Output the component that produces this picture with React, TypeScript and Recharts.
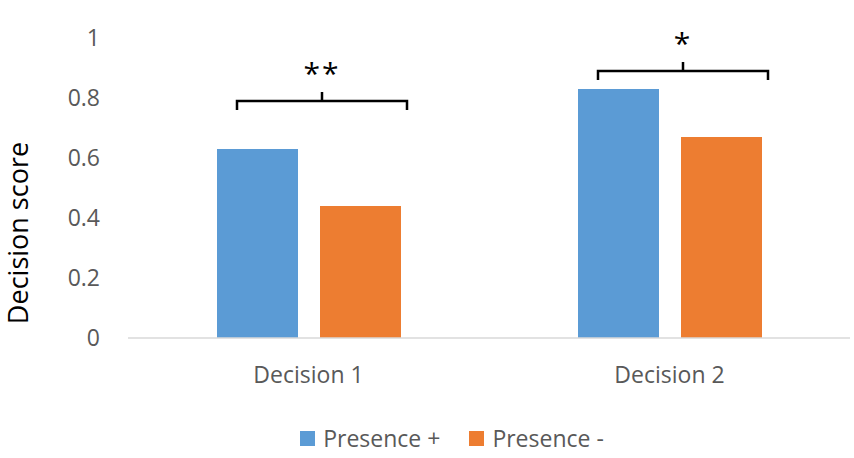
import React from "react";
import { BarChart, Bar, XAxis, YAxis, Legend, LabelList } from "recharts";

const categories = ["Decision 1", "Decision 2"];
const presencePlus = [0.63, 0.83];
const presenceMinus = [0.44, 0.67];
const yTicks = [0, 0.2, 0.4, 0.6, 0.8, 1];
// significance brackets: level on the y scale and star label
const bracketLevels = [0.79, 0.89];
const bracketStars = ["**", "*"];

const data = categories.map((name, i) => ({
  name,
  plus: presencePlus[i],
  minus: presenceMinus[i],
}));

const FONT = "'Open Sans', sans-serif";
const BAR = 81;
const GAP = 22;

const Bracket = (props: any) => {
  const { x, y, width, height, value, index } = props;
  const base = y + height;
  const perUnit = height / value;
  const ly = base - bracketLevels[index] * perUnit;
  const x1 = x + 20;
  const x2 = x + width * 2 + GAP + 6;
  const cx = (x1 + x2) / 2;
  const d = `M${x1},${ly + 9} L${x1},${ly} L${x2},${ly} L${x2},${ly + 9} M${cx},${ly} L${cx},${ly - 9}`;
  return (
    <g>
      <path d={d} stroke="#000" strokeWidth={2.5} fill="none" />
      <text
        x={cx}
        y={ly - 17}
        textAnchor="middle"
        fontFamily={FONT}
        fontSize={30}
        letterSpacing={2}
        fill="#000"
      >
        {bracketStars[index]}
      </text>
    </g>
  );
};

const renderLegend = () => (
  <div
    style={{
      display: "flex",
      justifyContent: "center",
      gap: 29,
      paddingTop: 14,
      paddingLeft: 54,
      fontFamily: FONT,
      fontSize: 23,
      color: "#595959",
    }}
  >
    {[
      ["Presence +", "#5b9bd5"],
      ["Presence -", "#ed7d31"],
    ].map(([label, color]) => (
      <div key={label} style={{ display: "flex", alignItems: "center", gap: 8 }}>
        <span style={{ width: 15, height: 15, background: color, display: "inline-block" }} />
        <span>{label}</span>
      </div>
    ))}
  </div>
);

export default function App() {
  return (
    <div style={{ position: "absolute", left: 0, top: 0, background: "#fff" }}>
      <BarChart
        width={854}
        height={458}
        data={data}
        margin={{ top: 38, right: 4, left: 0, bottom: 0 }}
        barSize={BAR}
        barGap={GAP}
      >
        <XAxis
          dataKey="name"
          height={70}
          tickLine={false}
          tickSize={0}
          tickMargin={29}
          axisLine={{ stroke: "#d9d9d9", strokeWidth: 1.5 }}
          tick={{ fill: "#595959", fontSize: 23, fontFamily: FONT }}
        />
        <YAxis
          width={128}
          domain={[0, 1]}
          ticks={yTicks}
          axisLine={false}
          tickLine={false}
          tickSize={0}
          tickMargin={28}
          tick={{ fill: "#595959", fontSize: 23, fontFamily: FONT }}
          tickFormatter={(v: number) => String(v)}
          label={{
            content: () => (
              <text
                x={17}
                y={233}
                transform="rotate(-90 17 233)"
                textAnchor="middle"
                dominantBaseline="central"
                fontFamily={FONT}
                fontSize={27}
                fill="#000"
              >
                Decision score
              </text>
            ),
          }}
        />
        <Legend verticalAlign="bottom" height={50} content={renderLegend} />
        <Bar dataKey="plus" name="Presence +" fill="#5b9bd5" isAnimationActive={false}>
          <LabelList dataKey="plus" content={Bracket} />
        </Bar>
        <Bar dataKey="minus" name="Presence -" fill="#ed7d31" isAnimationActive={false} />
      </BarChart>
    </div>
  );
}
